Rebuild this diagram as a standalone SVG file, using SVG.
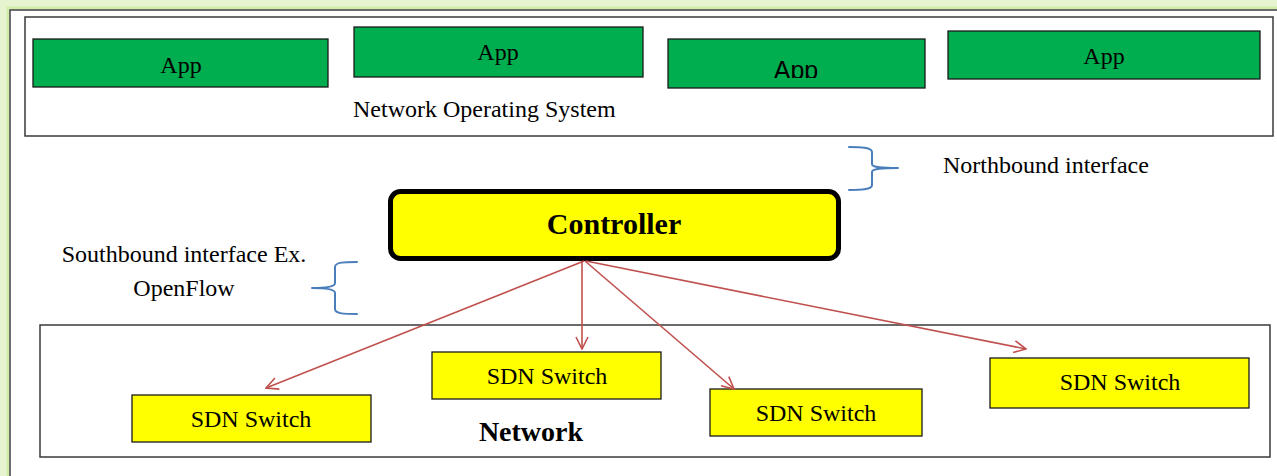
<svg xmlns="http://www.w3.org/2000/svg" width="1277" height="476" viewBox="0 0 1277 476">
  <defs>
    <style>
      .frame { fill: #ffffff; stroke: #3a3a3a; stroke-width: 1.5; }
      .app { fill: #00ad4f; stroke: #1a1a1a; stroke-width: 1.3; }
      .sw { fill: #ffff00; stroke: #1a1a1a; stroke-width: 1.3; }
      .t { font-family: "Liberation Serif", "Times New Roman", serif; font-size: 24px; fill: #000; }
      .mid { text-anchor: middle; }
      .brace { fill: none; stroke: #4a7ebb; stroke-width: 2; stroke-linecap: round; stroke-linejoin: round; }
      .link { fill: none; stroke: #c0504d; stroke-width: 1.6; }
    </style>
    <marker id="open" viewBox="0 0 14 14" refX="13" refY="7" markerWidth="14" markerHeight="14" markerUnits="userSpaceOnUse" orient="auto">
      <path d="M1,1 L13,7 L1,13" fill="none" stroke="#c0504d" stroke-width="1.6"/>
    </marker>
    <clipPath id="clipApp3">
      <rect x="668" y="39" width="257" height="39"/>
    </clipPath>
  </defs>

  <rect width="1277" height="476" fill="#ffffff"/>

  <!-- page frame with soft green edge -->
  <g id="page">
    <rect x="4" y="4" width="1290" height="490" fill="none" stroke="#e6f5cf" stroke-width="8"/>
    <rect x="8" y="8" width="1290" height="490" fill="none" stroke="#d2ecab" stroke-width="3"/>
    <rect x="10" y="10" width="1290" height="490" fill="#ffffff" stroke="#404040" stroke-width="1.5"/>
  </g>

  <!-- application layer -->
  <g id="nos">
    <rect class="frame" x="25" y="17" width="1248" height="119"/>
    <text class="t" x="353" y="117">Network Operating System</text>
  </g>
  <g id="app1">
    <rect class="app" x="33" y="39" width="295" height="48"/>
    <text class="t mid" x="181" y="73">App</text>
  </g>
  <g id="app2">
    <rect class="app" x="354" y="27" width="289" height="50"/>
    <text class="t mid" x="498" y="60">App</text>
  </g>
  <g id="app3">
    <rect class="app" x="668" y="39" width="257" height="49"/>
    <text class="mid" x="796" y="79" clip-path="url(#clipApp3)" font-family="Liberation Sans, Arial, sans-serif" font-size="25">App</text>
  </g>
  <g id="app4">
    <rect class="app" x="948" y="31" width="312" height="48"/>
    <text class="t mid" x="1104" y="64">App</text>
  </g>

  <!-- interface annotations -->
  <g id="northbound">
    <path class="brace" d="M849,147 C860,147 872,147 872,152 L872,164 C872,167 878,168 898,168 C878,168 872,169 872,172 L872,185 C872,190 860,190 849,190"/>
    <text class="t" x="943" y="173">Northbound interface</text>
  </g>
  <g id="southbound">
    <path class="brace" d="M357,262 C345,262 335,262 335,267 L335,283 C335,286 330,288 312,288 C330,288 335,290 335,293 L335,309 C335,314 345,314 357,314"/>
    <text class="t mid" x="184" y="262">Southbound interface Ex.</text>
    <text class="t mid" x="184" y="296">OpenFlow</text>
  </g>

  <!-- controller -->
  <g id="controller">
    <rect x="390.5" y="191.5" width="448" height="67" rx="10" ry="10" fill="#ffff00" stroke="#000" stroke-width="5"/>
    <text x="614" y="234" text-anchor="middle" font-family="Liberation Serif, Times New Roman, serif" font-size="30" font-weight="bold">Controller</text>
  </g>

  <!-- data plane -->
  <g id="network">
    <rect class="frame" x="40" y="325" width="1230" height="132"/>
    <text x="531" y="441" text-anchor="middle" font-family="Liberation Serif, Times New Roman, serif" font-size="28" font-weight="bold">Network</text>
  </g>
  <g id="switch1">
    <rect class="sw" x="132" y="395" width="239" height="47"/>
    <text class="t mid" x="251" y="427">SDN Switch</text>
  </g>
  <g id="switch2">
    <rect class="sw" x="432" y="352" width="229" height="47"/>
    <text class="t mid" x="547" y="384">SDN Switch</text>
  </g>
  <g id="switch3">
    <rect class="sw" x="710" y="389" width="212" height="47"/>
    <text class="t mid" x="816" y="421">SDN Switch</text>
  </g>
  <g id="switch4">
    <rect class="sw" x="990" y="358" width="259" height="50"/>
    <text class="t mid" x="1120" y="390">SDN Switch</text>
  </g>

  <!-- controller-to-switch links -->
  <g id="links">
    <line class="link" x1="584" y1="261" x2="266" y2="388" marker-end="url(#open)"/>
    <line class="link" x1="582" y1="261" x2="582" y2="349" marker-end="url(#open)"/>
    <line class="link" x1="585" y1="261" x2="734" y2="389" marker-end="url(#open)"/>
    <line class="link" x1="586" y1="261" x2="1026" y2="349" marker-end="url(#open)"/>
  </g>
</svg>
